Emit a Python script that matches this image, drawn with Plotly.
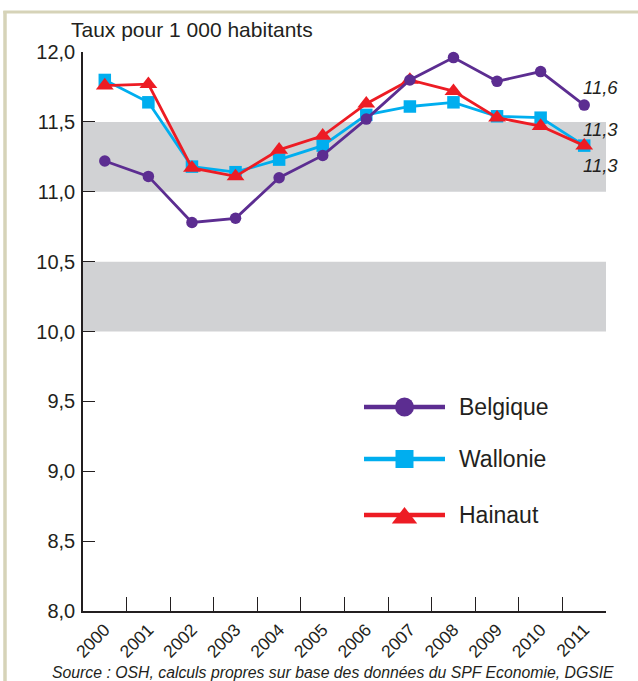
import plotly.graph_objects as go

years = ["2000", "2001", "2002", "2003", "2004", "2005", "2006", "2007", "2008", "2009", "2010", "2011"]
belgique = [11.22, 11.11, 10.78, 10.81, 11.10, 11.26, 11.52, 11.80, 11.96, 11.79, 11.86, 11.62]
wallonie = [11.80, 11.64, 11.18, 11.14, 11.23, 11.33, 11.55, 11.61, 11.64, 11.54, 11.53, 11.33]
hainaut = [11.76, 11.77, 11.17, 11.11, 11.30, 11.40, 11.63, 11.80, 11.72, 11.53, 11.47, 11.33]
series_names = ["Belgique", "Wallonie", "Hainaut"]
bands = [(11.0, 11.5), (10.0, 10.5)]

FONT = "Liberation Sans, Arial, sans-serif"
TXT = "#231f20"
C_BEL = "#5c2d91"
C_WAL = "#00aeef"
C_HAI = "#ed1c24"

# plot area in pixels
L, R, T, B = 83, 606, 52, 611
W, H = 638, 681


def px_x(p):
    return (p - L) / (R - L)


def px_y(p):
    return (B - p) / (B - T)


fig = go.Figure()

styles = {
    "Belgique": dict(color=C_BEL, symbol="circle", size=11.5, lsize=19, data=belgique),
    "Wallonie": dict(color=C_WAL, symbol="square", size=12.5, lsize=18, data=wallonie),
    "Hainaut": dict(color=C_HAI, symbol="triangle-up", size=15.5, lsize=22, data=hainaut),
}

for name in ["Wallonie", "Hainaut", "Belgique"]:
    s = styles[name]
    fig.add_trace(go.Scatter(
        x=years, y=s["data"], mode="lines+markers", name=name,
        line=dict(color=s["color"], width=2.8),
        marker=dict(symbol=s["symbol"], size=s["size"], color=s["color"]),
        showlegend=False, cliponaxis=False,
    ))

# custom legend (pixel coordinates through overlay axes)
leg_y = {"Belgique": 407, "Wallonie": 459, "Hainaut": 515}
for name in series_names:
    s = styles[name]
    y = leg_y[name]
    fig.add_trace(go.Scatter(
        x=[364, 445], y=[y, y], mode="lines", xaxis="x2", yaxis="y2",
        line=dict(color=s["color"], width=4.5), showlegend=False, hoverinfo="skip",
    ))
    fig.add_trace(go.Scatter(
        x=[404.5], y=[y + (3 if s["symbol"] == "triangle-up" else 0)], mode="markers",
        xaxis="x2", yaxis="y2",
        marker=dict(symbol=s["symbol"], size=s["lsize"], color=s["color"]),
        showlegend=False, hoverinfo="skip",
    ))

annotations = []
for name in series_names:
    annotations.append(dict(
        text=name, x=px_x(457), y=px_y(leg_y[name]), xref="paper", yref="paper",
        xanchor="left", yanchor="middle", showarrow=False,
        font=dict(family=FONT, size=23, color=TXT),
    ))

# end value labels
shifts = {"Belgique": 18, "Wallonie": 16, "Hainaut": -20}
last_idx = len(years) - 1
for name in series_names:
    v = styles[name]["data"][-1]
    annotations.append(dict(
        text=f"<i>{v:.1f}</i>".replace(".", ","), x=last_idx, y=v,
        xref="x", yref="y", xshift=16, yshift=shifts[name],
        showarrow=False, xanchor="center", yanchor="middle",
        font=dict(family=FONT, size=18.5, color=TXT),
    ))

annotations.append(dict(
    text="Taux pour 1 000 habitants", x=px_x(69), y=px_y(29), xref="paper", yref="paper",
    xanchor="left", yanchor="middle", showarrow=False,
    font=dict(family=FONT, size=21, color=TXT),
))
annotations.append(dict(
    text="<i>Source : OSH, calculs propres sur base des données du SPF Economie, DGSIE</i>",
    x=px_x(333), y=px_y(672), xref="paper", yref="paper",
    xanchor="center", yanchor="middle", showarrow=False,
    font=dict(family=FONT, size=15.8, color=TXT),
))

shapes = []
for lo, hi in bands:
    shapes.append(dict(type="rect", xref="paper", yref="y", x0=0, x1=1, y0=lo, y1=hi,
                       fillcolor="#d1d2d4", line=dict(width=0), layer="below"))
# outer frame (left and top)
shapes.append(dict(type="line", xref="paper", yref="paper",
                   x0=px_x(5), x1=px_x(5), y0=px_y(11), y1=px_y(700),
                   line=dict(color="#d6d3b8", width=3.5)))
shapes.append(dict(type="line", xref="paper", yref="paper",
                   x0=px_x(3.3), x1=px_x(660), y0=px_y(12), y1=px_y(12),
                   line=dict(color="#d6d3b8", width=3)))

fig.update_layout(
    width=W, height=H,
    margin=dict(l=L, r=W - R, t=T, b=H - B, pad=0),
    paper_bgcolor="white", plot_bgcolor="white",
    separators=", ",
    showlegend=False,
    font=dict(family=FONT, color=TXT),
    shapes=shapes, annotations=annotations,
    xaxis=dict(
        type="category", categoryorder="array", categoryarray=years,
        range=[-0.5, 11.5], showgrid=False, zeroline=False,
        showline=True, linecolor=TXT, linewidth=1.5,
        ticks="inside", tickson="boundaries", ticklen=14, tickwidth=1.3, tickcolor=TXT,
        tickangle=-45, tickfont=dict(family=FONT, size=17.5, color=TXT),
    ),
    yaxis=dict(
        range=[8, 12], dtick=0.5, tick0=8, tickformat=".1f",
        showgrid=False, zeroline=False,
        showline=True, linecolor=TXT, linewidth=1.5,
        ticks="inside", ticklen=12, tickwidth=1.3, tickcolor=TXT,
        ticklabelstandoff=2,
        tickfont=dict(family=FONT, size=20, color=TXT),
    ),
    xaxis2=dict(overlaying="x", range=[L, R], visible=False, anchor="y2"),
    yaxis2=dict(overlaying="y", range=[B, T], visible=False, anchor="x2"),
)

fig.write_html(
    "out.html",
    config={"displayModeBar": False},
    post_script="document.body.style.margin='0';document.body.style.overflow='hidden';",
)
